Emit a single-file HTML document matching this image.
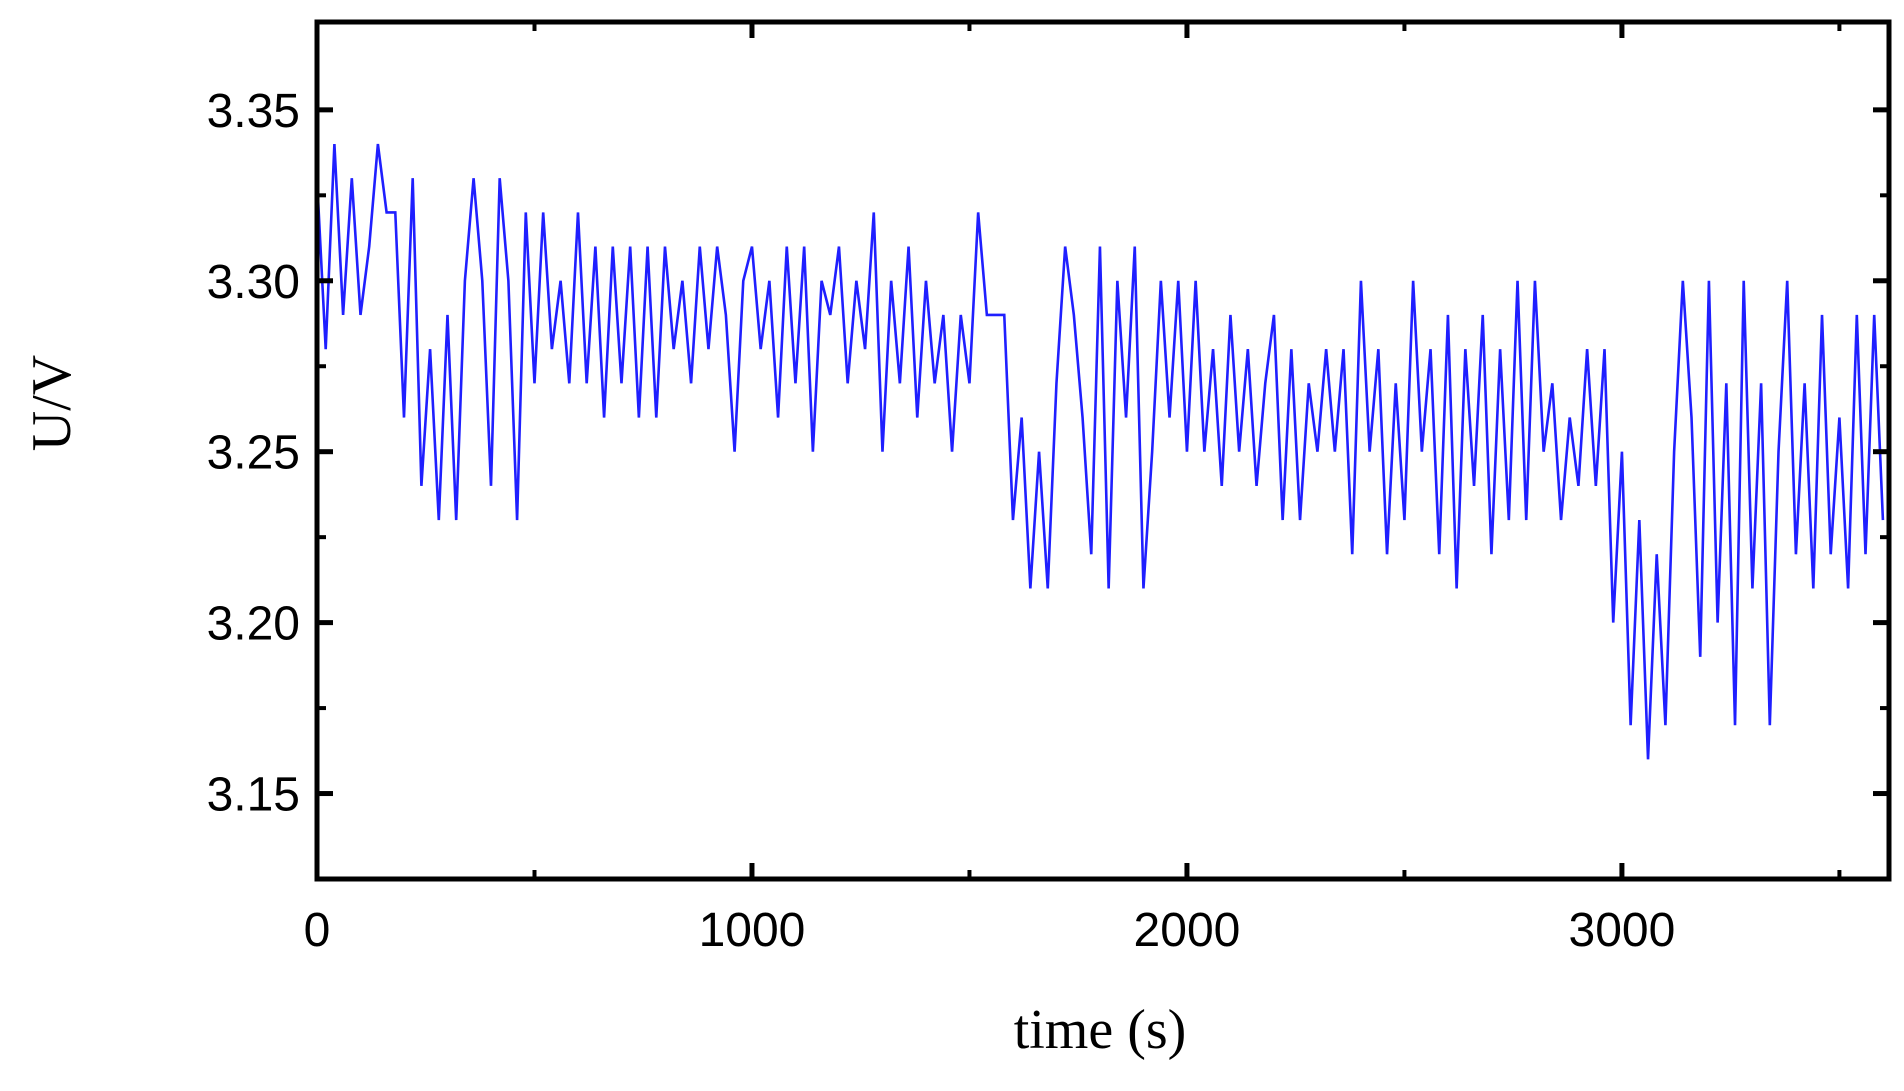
<!DOCTYPE html>
<html><head><meta charset="utf-8"><style>
html,body{margin:0;padding:0;background:#fff;}
svg{display:block;}
</style></head><body>
<svg id="chart" width="1904" height="1091" viewBox="0 0 1904 1091" xmlns="http://www.w3.org/2000/svg">
<g id="plot"></g>
</svg>
<script>
const times = [0,20,40,60,80,100,120,140,160,180,200,220,240,260,280,300,320,340,360,380,400,420,440,460,480,500,520,540,560,580,600,620,640,660,680,700,720,740,760,780,800,820,840,860,880,900,920,940,960,980,1000,1020,1040,1060,1080,1100,1120,1140,1160,1180,1200,1220,1240,1260,1280,1300,1320,1340,1360,1380,1400,1420,1440,1460,1480,1500,1520,1540,1560,1580,1600,1620,1640,1660,1680,1700,1720,1740,1760,1780,1800,1820,1840,1860,1880,1900,1920,1940,1960,1980,2000,2020,2040,2060,2080,2100,2120,2140,2160,2180,2200,2220,2240,2260,2280,2300,2320,2340,2360,2380,2400,2420,2440,2460,2480,2500,2520,2540,2560,2580,2600,2620,2640,2660,2680,2700,2720,2740,2760,2780,2800,2820,2840,2860,2880,2900,2920,2940,2960,2980,3000,3020,3040,3060,3080,3100,3120,3140,3160,3180,3200,3220,3240,3260,3280,3300,3320,3340,3360,3380,3400,3420,3440,3460,3480,3500,3520,3540,3560,3580,3600];
const voltage = [
3.33,3.28,3.34,3.29,3.33,3.29,3.31,3.34,3.32,3.32,
3.26,3.33,3.24,3.28,3.23,3.29,3.23,3.30,3.33,3.30,
3.24,3.33,3.30,3.23,3.32,3.27,3.32,3.28,3.30,3.27,
3.32,3.27,3.31,3.26,3.31,3.27,3.31,3.26,3.31,3.26,
3.31,3.28,3.30,3.27,3.31,3.28,3.31,3.29,3.25,3.30,
3.31,3.28,3.30,3.26,3.31,3.27,3.31,3.25,3.30,3.29,
3.31,3.27,3.30,3.28,3.32,3.25,3.30,3.27,3.31,3.26,
3.30,3.27,3.29,3.25,3.29,3.27,3.32,3.29,3.29,3.29,
3.23,3.26,3.21,3.25,3.21,3.27,3.31,3.29,3.26,3.22,
3.31,3.21,3.30,3.26,3.31,3.21,3.25,3.30,3.26,3.30,
3.25,3.30,3.25,3.28,3.24,3.29,3.25,3.28,3.24,3.27,
3.29,3.23,3.28,3.23,3.27,3.25,3.28,3.25,3.28,3.22,
3.30,3.25,3.28,3.22,3.27,3.23,3.30,3.25,3.28,3.22,
3.29,3.21,3.28,3.24,3.29,3.22,3.28,3.23,3.30,3.23,
3.30,3.25,3.27,3.23,3.26,3.24,3.28,3.24,3.28,3.20,
3.25,3.17,3.23,3.16,3.22,3.17,3.25,3.30,3.26,3.19,
3.30,3.20,3.27,3.17,3.30,3.21,3.27,3.17,3.25,3.30,
3.22,3.27,3.21,3.29,3.22,3.26,3.21,3.29,3.22,3.29,
3.23];
const xTicks = [0,1000,2000,3000];
const xMinor = [500,1500,2500,3500];
const yTicks = [3.15,3.20,3.25,3.30,3.35];
const yMinor = [3.175,3.225,3.275,3.325];
const yTickLabels = ["3.15","3.20","3.25","3.30","3.35"];

const L=317,R=1889,T=22,B=879;
const X0=0,X1=3614,Y0=3.125,Y1=3.3757;
const xs=v=>L+(v-X0)/(X1-X0)*(R-L);
const ys=v=>B-(v-Y0)/(Y1-Y0)*(B-T);
const NS='http://www.w3.org/2000/svg';
const svg=document.getElementById('chart');
function mk(tag,attrs,parent){const e=document.createElementNS(NS,tag);for(const k in attrs)e.setAttribute(k,attrs[k]);(parent||svg).appendChild(e);return e;}

let d='';
for(let i=0;i<times.length;i++){
  const x=xs(times[i]),y=ys(voltage[i]);
  d+=(i===0?'M':' L')+x+','+y;
}
const clip=mk('clipPath',{id:'cp'});mk('rect',{x:L,y:T,width:R-L,height:B-T},clip);
const line=mk('path',{d:d,fill:'none',stroke:'#1f1fff','stroke-width':2.6,'stroke-linejoin':'miter','clip-path':'url(#cp)'});



const frame=mk('rect',{x:L,y:T,width:R-L,height:B-T,fill:'none',stroke:'#000','stroke-width':5});



xTicks.forEach(v=>{const x=xs(v);
  mk('line',{x1:x,y1:B,x2:x,y2:B-16,stroke:'#000','stroke-width':5});
  mk('line',{x1:x,y1:T,x2:x,y2:T+16,stroke:'#000','stroke-width':5});
  const t=mk('text',{x:x,y:946,'text-anchor':'middle','font-family':'Liberation Sans, sans-serif','font-size':48,fill:'#000'});
  t.textContent=String(v);
  
  
});
xMinor.forEach(v=>{const x=xs(v);
  mk('line',{x1:x,y1:B,x2:x,y2:B-9,stroke:'#000','stroke-width':4});
  mk('line',{x1:x,y1:T,x2:x,y2:T+9,stroke:'#000','stroke-width':4});
});
yTicks.forEach((v,i)=>{const y=ys(v);
  mk('line',{x1:L,y1:y,x2:L+16,y2:y,stroke:'#000','stroke-width':5});
  mk('line',{x1:R,y1:y,x2:R-16,y2:y,stroke:'#000','stroke-width':5});
  const t=mk('text',{x:300,y:y+17,'text-anchor':'end','font-family':'Liberation Sans, sans-serif','font-size':48,fill:'#000'});
  t.textContent=yTickLabels[i];
  
  
});
yMinor.forEach(v=>{const y=ys(v);
  mk('line',{x1:L,y1:y,x2:L+9,y2:y,stroke:'#000','stroke-width':4});
  mk('line',{x1:R,y1:y,x2:R-9,y2:y,stroke:'#000','stroke-width':4});
});
const xt=mk('text',{x:1100,y:1048,'text-anchor':'middle','font-family':'Liberation Serif, serif','font-size':56,fill:'#000'});
xt.textContent='time (s)';


const yt=mk('text',{x:0,y:0,'text-anchor':'middle','font-family':'Liberation Serif, serif','font-size':56,fill:'#000',transform:'translate(70,403) rotate(-90)'});
yt.textContent='U/V';


</script>
</body></html>
